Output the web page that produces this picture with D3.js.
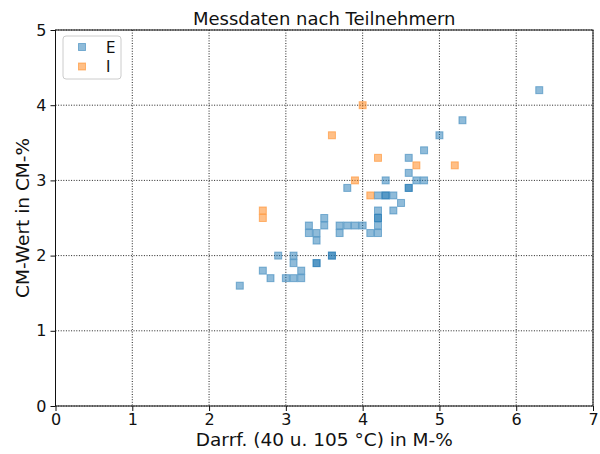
<!DOCTYPE html>
<html>
<head>
<meta charset="utf-8">
<script src="https://cdn.jsdelivr.net/npm/d3@7"></script>
<style>
  body { margin: 0; background: #fff; }
  svg { display: block; font-family: "DejaVu Sans", sans-serif; }
</style>
</head>
<body>
<svg id="chart" width="600" height="454"></svg>
<script>
// Darrfeuchte (x) und CM-Wert (y) je Teilnehmergruppe
const seriesNames = ["E", "I"];
const seriesColors = ["#1f77b4", "#ff7f0e"];

const xE = [2.4, 2.7, 2.8, 2.9, 3.0, 3.1, 3.1, 3.1, 3.2, 3.2, 3.3, 3.3, 3.4, 3.4, 3.4, 3.4,
            3.5, 3.5, 3.6, 3.6, 3.7, 3.7, 3.8, 3.8, 3.9, 4.0, 4.1, 4.2, 4.2, 4.2, 4.2, 4.2,
            4.2, 4.3, 4.3, 4.3, 4.4, 4.4, 4.5, 4.6, 4.6, 4.6, 4.6, 4.7, 4.8, 4.8, 5.0, 5.3, 6.3];
const yE = [1.6, 1.8, 1.7, 2.0, 1.7, 1.7, 1.9, 2.0, 1.7, 1.8, 2.3, 2.4, 1.9, 1.9, 2.2, 2.3,
            2.4, 2.5, 2.0, 2.0, 2.3, 2.4, 2.4, 2.9, 2.4, 2.4, 2.3, 2.3, 2.4, 2.5, 2.5, 2.6,
            2.8, 2.8, 2.8, 3.0, 2.6, 2.8, 2.7, 2.9, 2.9, 3.1, 3.3, 3.0, 3.0, 3.4, 3.6, 3.8, 4.2];

const xI = [2.7, 2.7, 3.6, 3.9, 4.0, 4.1, 4.2, 4.7, 5.2];
const yI = [2.5, 2.6, 3.6, 3.0, 4.0, 2.8, 3.3, 3.2, 3.2];

const xTicks = [0, 1, 2, 3, 4, 5, 6, 7];
const yTicks = [0, 1, 2, 3, 4, 5];

const titleText = "Messdaten nach Teilnehmern";
const xLabel = "Darrf. (40 u. 105 °C) in M-%";
const yLabel = "CM-Wert in CM-%";

const svg = d3.select("#chart");
const m = { left: 55.5, right: 593, top: 30, bottom: 406 };

const x = d3.scaleLinear().domain([0, 7]).range([m.left, m.right]);
const y = d3.scaleLinear().domain([0, 5]).range([m.bottom, m.top]);

// dotted grid
const grid = svg.append("g");
grid.selectAll(".gx").data(xTicks).join("line")
  .attr("x1", d => x(d)).attr("x2", d => x(d))
  .attr("y1", m.top).attr("y2", m.bottom)
  .attr("stroke", "#222").attr("stroke-width", 1).attr("stroke-dasharray", "1,1.6");
grid.selectAll(".gy").data(yTicks).join("line")
  .attr("y1", d => y(d)).attr("y2", d => y(d))
  .attr("x1", m.left).attr("x2", m.right)
  .attr("stroke", "#222").attr("stroke-width", 1).attr("stroke-dasharray", "1,1.6");

// markers
const ms = 7;
function drawSeries(xs, ys, color) {
  const pts = xs.map((v, i) => [v, ys[i]]);
  svg.append("g").selectAll("rect").data(pts).join("rect")
    .attr("x", d => x(d[0]) - ms / 2)
    .attr("y", d => y(d[1]) - ms / 2)
    .attr("width", ms).attr("height", ms)
    .attr("fill", color).attr("fill-opacity", 0.5)
    .attr("stroke", color).attr("stroke-opacity", 0.5).attr("stroke-width", 1);
}
drawSeries(xE, yE, seriesColors[0]);
drawSeries(xI, yI, seriesColors[1]);

// axes
const xAxis = svg.append("g").attr("transform", `translate(0,${m.bottom})`)
  .call(d3.axisBottom(x).tickValues(xTicks).tickFormat(d3.format("d")).tickSize(5).tickSizeOuter(0).tickPadding(3));
const yAxis = svg.append("g").attr("transform", `translate(${m.left},0)`)
  .call(d3.axisLeft(y).tickValues(yTicks).tickFormat(d3.format("d")).tickSize(5).tickSizeOuter(0).tickPadding(4));
[xAxis, yAxis].forEach(a => {
  a.select(".domain").remove();
  a.selectAll("text").attr("font-size", 16).attr("fill", "#111").attr("font-family", "DejaVu Sans");
  a.selectAll("line").attr("stroke", "#111");
});

// frame
svg.append("rect")
  .attr("x", m.left).attr("y", m.top)
  .attr("width", m.right - m.left).attr("height", m.bottom - m.top)
  .attr("fill", "none").attr("stroke", "#111").attr("stroke-width", 1);

// title and axis labels
svg.append("text").attr("x", (m.left + m.right) / 2).attr("y", 25)
  .attr("text-anchor", "middle").attr("font-size", 18).attr("fill", "#111").text(titleText);
svg.append("text").attr("x", (m.left + m.right) / 2).attr("y", 446)
  .attr("text-anchor", "middle").attr("font-size", 18.5).attr("fill", "#111").text(xLabel);
svg.append("text").attr("transform", `translate(29,${(m.top + m.bottom) / 2}) rotate(-90)`)
  .attr("text-anchor", "middle").attr("font-size", 18.5).attr("fill", "#111").text(yLabel);

// legend
const lg = svg.append("g").attr("transform", "translate(63,36)");
lg.append("rect").attr("width", 58).attr("height", 43).attr("rx", 3)
  .attr("fill", "#fff").attr("fill-opacity", 0.8).attr("stroke", "#ccc");
seriesNames.forEach((name, i) => {
  lg.append("rect").attr("x", 19 - ms / 2).attr("y", 11 + i * 19.5 - ms / 2)
    .attr("width", ms).attr("height", ms)
    .attr("fill", seriesColors[i]).attr("fill-opacity", 0.5)
    .attr("stroke", seriesColors[i]).attr("stroke-opacity", 0.5);
  lg.append("text").attr("x", 43).attr("y", 11 + i * 19.5 + 5.5)
    .attr("font-size", 15).attr("fill", "#111").text(name);
});
</script>
</body>
</html>
